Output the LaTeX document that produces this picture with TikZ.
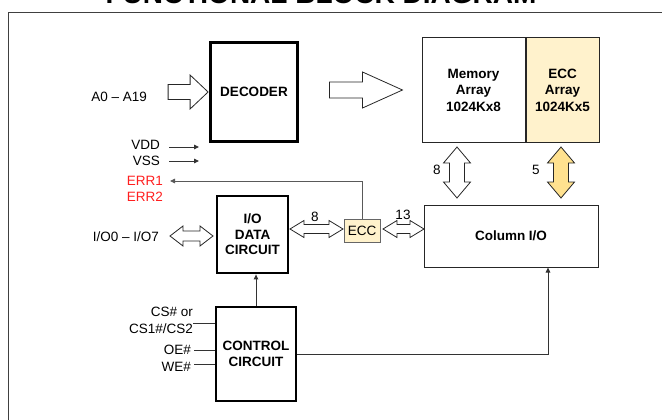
\documentclass[tikz,border=0pt]{standalone}
\usepackage{fontspec}
\setmainfont{Liberation Sans}
\usetikzlibrary{arrows.meta,calc}

\definecolor{eccfill}{HTML}{FFF2CC}
\definecolor{busfill}{HTML}{FFE18F}
\definecolor{errred}{HTML}{FF1F1F}

\begin{document}
\begin{tikzpicture}[
    x=1pt, y=-1pt,
    >={Triangle[length=5pt,width=4.5pt]},
    % Styles for the blocks and pins
    heavy/.style={rectangle, draw=black, line width=2.8pt, font=\fontsize{13.5}{15.5}\selectfont\bfseries, align=center, inner sep=0pt},
    light/.style={rectangle, draw=black!85, line width=1pt, font=\fontsize{13.5}{16.5}\selectfont\bfseries, align=center, inner sep=0pt},
    pin/.style={font=\fontsize{13.5}{17}\selectfont, inner sep=0pt, align=right},
    wire/.style={draw=black!80, line width=0.9pt},
    bus/.style={draw=black!85, line width=0.8pt, fill=white, line join=miter}
]
    \useasboundingbox (0,0) rectangle (662,420);

    % =========================================================================
    % 1. TITLE AND FRAME
    % =========================================================================
    \node[font=\fontsize{28}{30}\selectfont\bfseries, anchor=base, inner sep=0pt] (title) at (321,4) {FUNCTIONAL BLOCK DIAGRAM};
    \draw[black!75, line width=0.9pt] (8,420) -- (8,12) -- (662,12);

    % =========================================================================
    % 2. THE BLOCKS
    % =========================================================================
    \node[heavy, minimum width=87pt, minimum height=99pt] (decoder) at (254,92) {DECODER};
    \node[light, minimum width=103pt, minimum height=104pt] (mem) at (473.5,90) {Memory\\Array\\1024Kx8};
    \node[light, fill=eccfill, minimum width=73pt, minimum height=104pt, anchor=west] (eccarr) at (mem.east) {ECC\\Array\\1024Kx5};
    \node[light, minimum width=174pt, minimum height=62pt] (colio) at (511,236) {Column I/O};
    \node[light, draw=black!60, font=\fontsize{13.5}{15}\selectfont, fill=eccfill, minimum width=36pt, minimum height=23pt] (eccbox) at (362,230.5) {ECC};
    \node[heavy, minimum width=71pt, minimum height=77pt] (iodata) at (252.5,234.5) {I/O\\DATA\\CIRCUIT};
    \node[heavy, minimum width=80pt, minimum height=94pt] (ctrl) at (256,354) {CONTROL\\CIRCUIT};

    % =========================================================================
    % 3. PIN NAMES
    % =========================================================================
    \node[pin, anchor=east] (addr) at (147,97) {A0 – A19};
    \node[pin, anchor=east] (vdd) at (160,145) {VDD};
    \node[pin, anchor=east] (vss) at (160,161) {VSS};
    \node[pin, anchor=east, text=errred] (err1) at (163,181) {ERR1};
    \node[pin, anchor=east, text=errred] (err2) at (163,197) {ERR2};
    \node[pin, anchor=east] (iopin) at (159,237) {I/O0 – I/O7};
    \node[pin, anchor=east] (cs) at (193,320.5) {CS\# or\\CS1\#/CS2};
    \node[pin, anchor=east] (oe) at (191,350) {OE\#};
    \node[pin, anchor=east] (we) at (191,367) {WE\#};

    % bus widths
    \node[pin] (w8a) at (437,170) {8};
    \node[pin] (w5) at (536,170) {5};
    \node[pin] (w8b) at (315,217) {8};
    \node[pin] (w13) at (403,215) {13};

    % =========================================================================
    % 4. SIGNAL LINES
    % =========================================================================
    \draw[wire,->] (169,147) coordinate (vddend) -- ++(30,0);
    \draw[wire,->] (169,161) coordinate (vssend) -- ++(30,0);
    \draw[wire, draw=black!65, ->] (eccbox.north) |- ([xshift=7pt]err1.east);
    \draw[wire,->] (ctrl.north) -- (ctrl.north |- iodata.south);
    \draw[wire,->] (ctrl.east) -| ([xshift=37pt]colio.south);

    \coordinate (cspin) at (193,323);
    \coordinate (oepin) at (194,350);
    \coordinate (wepin) at (194,364);
    \draw[wire] (cspin) -- (cspin -| ctrl.west);
    \draw[wire] (oepin) -- (oepin -| ctrl.west);
    \draw[wire] (wepin) -- (wepin -| ctrl.west);

    % =========================================================================
    % 5. HOLLOW BUS ARROWS
    % =========================================================================
    % address into the decoder
    \draw[bus] ([xshift=-1pt]decoder.west) -- ++(-18,-17) -- ++(0,9.5) -- ++(-22,0) -- ++(0,15) -- ++(22,0) -- ++(0,9.5) -- cycle;
    % decoder towards the arrays
    \draw[bus] ([xshift=-19pt]mem.west) -- ++(-40,-18) -- ++(0,10) -- ++(-33,0) -- ++(0,16) -- ++(33,0) -- ++(0,10) -- cycle;
    % data pins
    \draw[bus] (213,236) -- ++(-13,-10) -- ++(0,5) -- ++(-17,0) -- ++(0,-5) -- ++(-13,10) -- ++(13,10) -- ++(0,-5) -- ++(17,0) -- ++(0,5) -- cycle;
    % I/O data circuit <-> ECC
    \draw[bus] (290,229) -- ++(14,-8.5) -- ++(0,4) -- ++(25,0) -- ++(0,-4) -- ++(14,8.5) -- ++(-14,8.5) -- ++(0,-4) -- ++(-25,0) -- ++(0,4) -- cycle;
    % ECC <-> column I/O
    \draw[bus] (383,229) -- ++(14,-8.5) -- ++(0,4) -- ++(13,0) -- ++(0,-4) -- ++(14,8.5) -- ++(-14,8.5) -- ++(0,-4) -- ++(-13,0) -- ++(0,4) -- cycle;
    % memory array <-> column I/O
    \draw[bus] (457,147) -- ++(13.5,16) -- ++(-6,0) -- ++(0,19) -- ++(6,0) -- ++(-13.5,16) -- ++(-13.5,-16) -- ++(6,0) -- ++(0,-19) -- ++(-6,0) -- cycle;
    % ECC array <-> column I/O
    \draw[bus, fill=busfill] (561,147) -- ++(13.5,16) -- ++(-6,0) -- ++(0,19) -- ++(6,0) -- ++(-13.5,16) -- ++(-13.5,-16) -- ++(6,0) -- ++(0,-19) -- ++(-6,0) -- cycle;

\end{tikzpicture}
\end{document}
